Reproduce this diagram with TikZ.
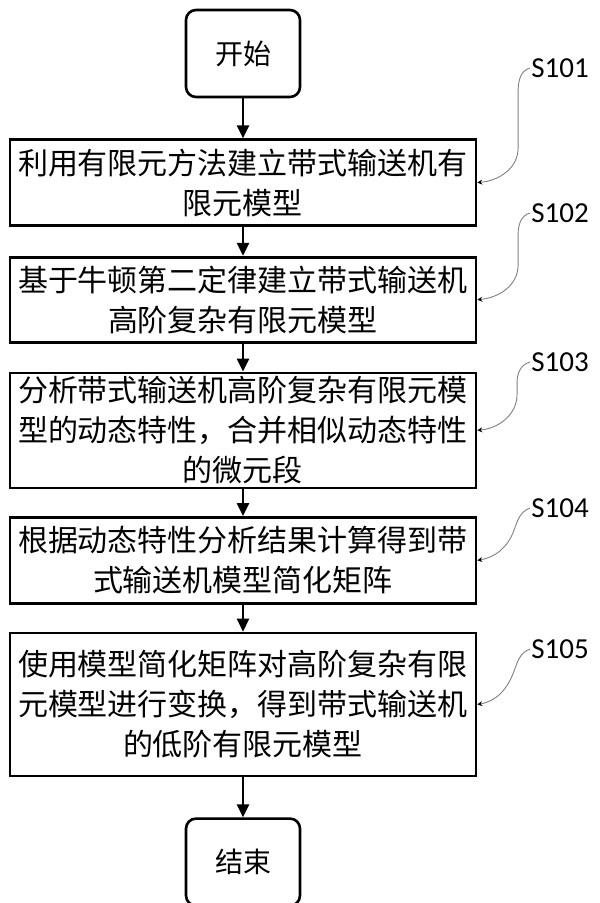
\documentclass[tikz,border=0pt]{standalone}
\usepackage{fontspec}
\setmainfont{Noto Sans CJK SC}
\newfontfamily\lblfont{Carlito}
\usetikzlibrary{positioning, arrows.meta}

\begin{document}
\begin{tikzpicture}[x=1pt, y=1pt,
    every node/.style={inner sep=0pt},
    term/.style={draw, line width=2.6pt, rounded corners=10pt, minimum width=114pt, minimum height=87pt, font=\fontsize{28}{36}\selectfont},
    stepbox/.style={draw, line width=2.6pt, text width=452pt, inner xsep=7pt, align=center, font=\fontsize{30}{40}\selectfont},
    lbl/.style={font=\lblfont\fontsize{29}{30}\selectfont, inner sep=1pt},
    flow/.style={line width=2.5pt, -{Triangle[width=12pt, length=13pt]}},
    leader/.style={draw=gray, line width=0.9pt, -{Stealth[black, width=5pt, length=5pt]}}]
   \useasboundingbox (0,0) rectangle (600,-903);

   % Start and first steps
   \node[term] (start) at (243,-53.5) {开始};
   \node[stepbox, minimum height=86pt] (box1) [below=40pt of start] {利用有限元方法建立带式输送机有\\限元模型};
   \node[stepbox, minimum height=85pt] (box2) [below=29pt of box1] {基于牛顿第二定律建立带式输送机\\高阶复杂有限元模型};
   \node[stepbox, minimum height=115pt] (box3) [below=28pt of box2] {分析带式输送机高阶复杂有限元模\\型的动态特性，合并相似动态特性\\的微元段};

   % Last steps and end
   \node[stepbox, minimum height=86pt] (box4) [below=27pt of box3] {根据动态特性分析结果计算得到带\\式输送机模型简化矩阵};
   \node[stepbox, minimum height=143pt] (box5) [below=27pt of box4] {使用模型简化矩阵对高阶复杂有限\\元模型进行变换，得到带式输送机\\的低阶有限元模型};
   \node[term] (end) [below=40pt of box5] {结束};

   % Step labels
   \node[lbl] (s101) at (560,-68) {S101};
   \node[lbl] (s102) at (560,-213) {S102};
   \node[lbl] (s103) at (560,-362) {S103};
   \node[lbl] (s104) at (560,-508) {S104};
   \node[lbl] (s105) at (560,-649) {S105};

   % Transitions
   \path[flow]
    (start) edge (box1)
    (box1) edge (box2)
    (box2) edge (box3)
    (box3) edge (box4)
    (box4) edge (box5)
    (box5) edge (end);

   % Leaders
   \draw[leader] (s101.west) to[out=195,in=90] ++(-12,-25) -- ++(0,-55) to[out=-90,in=5] (box1.east);
   \draw[leader] (s102.west) to[out=195,in=90] ++(-12,-22) -- ++(0,-30) to[out=-90,in=5] (box2.east);
   \draw[leader] (s103.west) to[out=195,in=90] ++(-13,-20) -- ++(0,-12) to[out=-90,in=5] (box3.east);
   \draw[leader] (s104.west) to[out=200,in=70] ++(-16,-22) to[out=-110,in=10] (box4.east);
   \draw[leader] (s105.west) to[out=200,in=70] ++(-16,-22) to[out=-110,in=10] (box5.east);
\end{tikzpicture}
\end{document}
